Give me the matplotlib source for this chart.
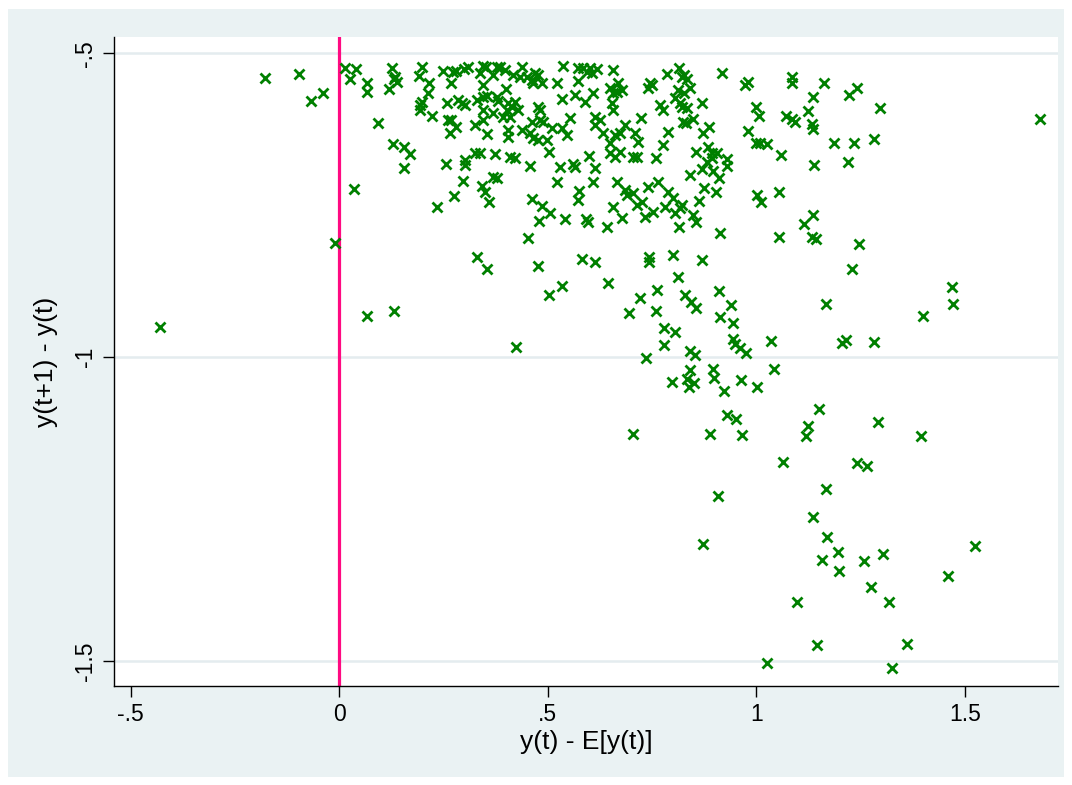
import matplotlib
matplotlib.use("Agg")
import matplotlib.pyplot as plt
from matplotlib.patches import Rectangle

# x: y(t) - E[y(t)],  y: y(t+1) - y(t)
x_vals = [
    -0.178, -0.097, -0.068, -0.039, 0.014, 0.040, 0.026, 0.066, 0.066, 0.126,
    0.134, 0.138, 0.131, 0.119, 0.093, 0.198, 0.191, 0.215, 0.213, 0.198,
    0.194, 0.194, 0.222, 0.129, 0.155, 0.170, 0.249, 0.273, 0.280, 0.268,
    0.258, 0.285, 0.261, 0.268, 0.265, 0.280, 0.155, 0.256, 0.299, 0.309,
    0.345, 0.352, 0.337, 0.369, 0.378, 0.385, 0.397, 0.345, 0.400, 0.416,
    0.438, 0.433, 0.450, 0.462, 0.469, 0.476, 0.464, 0.486, 0.522, 0.536,
    0.572, 0.584, 0.594, 0.601, 0.618, 0.606, 0.572, 0.656, 0.786, 0.745,
    0.740, 0.750, 0.294, 0.301, 0.330, 0.345, 0.354, 0.378, 0.381, 0.345,
    0.369, 0.405, 0.414, 0.421, 0.428, 0.402, 0.393, 0.409, 0.476, 0.481,
    0.534, 0.565, 0.589, 0.608, 0.649, 0.656, 0.668, 0.678, 0.666, 0.654,
    0.656, 0.769, 0.776, 0.325, 0.345, 0.354, 0.405, 0.405, 0.438, 0.457,
    0.464, 0.476, 0.498, 0.462, 0.481, 0.488, 0.510, 0.534, 0.546, 0.553,
    0.613, 0.625, 0.613, 0.632, 0.661, 0.673, 0.685, 0.649, 0.709, 0.716,
    0.723, 0.776, 0.788, 0.325, 0.337, 0.373, 0.409, 0.421, 0.301, 0.301,
    0.503, 0.599, 0.649, 0.661, 0.673, 0.704, 0.714, 0.759, 0.457, 0.529,
    0.560, 0.565, 0.613, 0.814, 0.822, 0.826, 0.834, 0.918, 0.973, 0.980,
    1.085, 1.085, 1.162, 1.241, 1.222, 0.812, 0.805, 0.817, 0.826, 0.841,
    0.834, 0.822, 0.870, 0.824, 0.831, 0.848, 0.872, 0.886, 0.999, 1.006,
    0.980, 0.999, 1.009, 1.025, 1.071, 1.085, 1.093, 1.124, 1.136, 1.133,
    1.136, 1.296, 1.186, 1.234, 1.282, 1.059, 0.855, 0.884, 0.894, 0.906,
    0.894, 0.882, 0.930, 0.930, 0.870, 1.138, 1.220, 1.680, 1.469, 0.035,
    0.234, 0.275, -0.010, 0.297, 0.342, 0.349, 0.359, 0.369, 0.378, 0.522,
    0.608, 0.575, 0.572, 0.462, 0.486, 0.505, 0.479, 0.541, 0.592, 0.596,
    0.642, 0.656, 0.678, 0.666, 0.685, 0.690, 0.704, 0.714, 0.726, 0.740,
    0.764, 0.733, 0.752, 0.781, 0.788, 0.452, 0.330, 0.354, 0.476, 0.582,
    0.613, 0.743, 0.743, 0.534, 0.644, 0.503, 0.762, 0.841, 0.896, 0.910,
    0.800, 0.805, 0.817, 0.822, 0.874, 0.903, 0.862, 0.848, 0.855, 0.814,
    0.913, 1.001, 1.011, 1.054, 1.114, 1.136, 1.054, 1.133, 1.143, 1.246,
    0.800, 0.870, 1.229, 0.812, 0.829, 0.910, -0.430, 0.066, 0.131, 0.424,
    0.695, 0.721, 0.759, 0.778, 0.805, 0.778, 0.735, 0.843, 0.855, 0.939,
    0.913, 0.944, 0.944, 0.949, 0.961, 0.975, 1.035, 0.841, 0.853, 0.841,
    0.834, 0.838, 0.850, 0.798, 0.896, 0.898, 0.922, 0.963, 1.001, 1.042,
    0.930, 0.951, 0.704, 0.889, 0.966, 1.471, 1.167, 1.399, 1.205, 1.215,
    1.282, 1.150, 1.124, 1.119, 1.292, 1.395, 1.064, 1.241, 1.265, 1.167,
    1.136, 1.169, 1.196, 1.198, 1.157, 1.258, 1.304, 1.524, 1.459, 1.275,
    1.097, 1.318, 1.145, 1.361, 1.325, 0.908, 0.872, 1.025,
]
y_vals = [
    -0.541, -0.534, -0.578, -0.565, -0.524, -0.526, -0.542, -0.549, -0.564, -0.524,
    -0.539, -0.547, -0.542, -0.559, -0.615, -0.523, -0.537, -0.549, -0.565, -0.580,
    -0.585, -0.593, -0.603, -0.649, -0.654, -0.666, -0.529, -0.531, -0.529, -0.549,
    -0.582, -0.577, -0.610, -0.610, -0.631, -0.621, -0.689, -0.682, -0.526, -0.523,
    -0.521, -0.523, -0.532, -0.536, -0.523, -0.523, -0.528, -0.552, -0.559, -0.536,
    -0.523, -0.539, -0.539, -0.544, -0.532, -0.536, -0.549, -0.549, -0.549, -0.521,
    -0.524, -0.524, -0.531, -0.524, -0.526, -0.532, -0.546, -0.528, -0.534, -0.549,
    -0.557, -0.552, -0.582, -0.585, -0.577, -0.572, -0.570, -0.572, -0.578, -0.593,
    -0.598, -0.582, -0.588, -0.580, -0.593, -0.593, -0.605, -0.605, -0.588, -0.593,
    -0.575, -0.569, -0.580, -0.565, -0.557, -0.565, -0.549, -0.560, -0.564, -0.582,
    -0.593, -0.585, -0.593, -0.618, -0.610, -0.633, -0.626, -0.638, -0.626, -0.631,
    -0.639, -0.643, -0.643, -0.613, -0.610, -0.613, -0.623, -0.623, -0.634, -0.606,
    -0.605, -0.610, -0.618, -0.631, -0.634, -0.631, -0.618, -0.648, -0.631, -0.646,
    -0.606, -0.651, -0.629, -0.664, -0.664, -0.666, -0.671, -0.672, -0.676, -0.684,
    -0.662, -0.669, -0.664, -0.671, -0.662, -0.671, -0.671, -0.672, -0.685, -0.687,
    -0.682, -0.687, -0.689, -0.524, -0.539, -0.536, -0.542, -0.532, -0.552, -0.547,
    -0.539, -0.549, -0.549, -0.557, -0.569, -0.560, -0.574, -0.582, -0.565, -0.557,
    -0.590, -0.588, -0.582, -0.613, -0.615, -0.608, -0.631, -0.621, -0.588, -0.603,
    -0.628, -0.648, -0.648, -0.649, -0.603, -0.608, -0.613, -0.595, -0.572, -0.616,
    -0.625, -0.590, -0.648, -0.648, -0.641, -0.667, -0.662, -0.654, -0.664, -0.664,
    -0.672, -0.679, -0.674, -0.685, -0.690, -0.684, -0.679, -0.608, -0.885, -0.723,
    -0.753, -0.735, -0.812, -0.710, -0.718, -0.728, -0.745, -0.704, -0.705, -0.712,
    -0.712, -0.727, -0.741, -0.740, -0.751, -0.763, -0.776, -0.773, -0.773, -0.777,
    -0.786, -0.753, -0.771, -0.712, -0.725, -0.733, -0.730, -0.750, -0.745, -0.720,
    -0.712, -0.769, -0.761, -0.753, -0.728, -0.804, -0.835, -0.855, -0.850, -0.838,
    -0.843, -0.835, -0.843, -0.883, -0.878, -0.898, -0.889, -0.700, -0.694, -0.705,
    -0.738, -0.763, -0.754, -0.750, -0.722, -0.728, -0.743, -0.766, -0.777, -0.786,
    -0.796, -0.733, -0.745, -0.728, -0.781, -0.766, -0.802, -0.802, -0.805, -0.814,
    -0.832, -0.840, -0.855, -0.868, -0.898, -0.891, -0.950, -0.932, -0.924, -0.983,
    -0.927, -0.903, -0.924, -0.952, -0.958, -0.980, -1.001, -0.909, -0.919, -0.914,
    -0.934, -0.944, -0.970, -0.978, -0.985, -0.993, -0.973, -0.990, -0.996, -1.021,
    -1.036, -1.049, -1.042, -1.041, -1.019, -1.034, -1.055, -1.037, -1.049, -1.019,
    -1.095, -1.102, -1.126, -1.126, -1.128, -0.912, -0.912, -0.932, -0.977, -0.972,
    -0.975, -1.085, -1.113, -1.130, -1.106, -1.130, -1.172, -1.174, -1.179, -1.216,
    -1.263, -1.296, -1.320, -1.351, -1.333, -1.335, -1.324, -1.310, -1.360, -1.378,
    -1.402, -1.402, -1.473, -1.472, -1.511, -1.228, -1.307, -1.503,
]

x_ticks = [-0.5, 0, 0.5, 1, 1.5]
x_tick_labels = ["-.5", "0", ".5", "1", "1.5"]
y_ticks = [-0.5, -1, -1.5]
y_tick_labels = ["-.5", "-1", "-1.5"]
ref_line_x = 0
x_label = "y(t) - E[y(t)]"
y_label = "y(t+1) - y(t)"

plt.rcParams['font.family'] = ['Liberation Sans', 'DejaVu Sans']

W, H = 1072, 785
fig = plt.figure(figsize=(W / 100, H / 100), dpi=100)
fig.patch.set_facecolor('white')
bg = Rectangle((8 / W, 8 / H), 1056 / W, 768 / H,
               transform=fig.transFigure, facecolor='#eaf2f3',
               edgecolor='none', zorder=-10)
fig.add_artist(bg)

ax = fig.add_axes([114 / W, (H - 686) / H, 944 / W, 649 / H])
ax.set_zorder(5)
ax.set_facecolor('white')

ax.set_xlim(-0.5402, 1.7231)
ax.set_ylim(-1.5406, -0.4732)

for yt in y_ticks:
    ax.axhline(yt, color='#e4ecef', linewidth=1.8, zorder=1)

ax.axvline(ref_line_x, color='#ff0a82', linewidth=2.3, zorder=2)

ax.plot(x_vals, y_vals, linestyle='none', marker='x', color='#008000',
        markersize=6.5, markeredgewidth=2.0, zorder=3)

for side in ['top', 'right']:
    ax.spines[side].set_visible(False)
for side in ['left', 'bottom']:
    ax.spines[side].set_color('black')
    ax.spines[side].set_linewidth(1.0)

ax.set_xticks(x_ticks)
ax.set_xticklabels(x_tick_labels)
ax.set_yticks(y_ticks)
ax.set_yticklabels(y_tick_labels, rotation=90, va='center')
ax.tick_params(axis='both', direction='out', length=8, width=1.0,
               labelsize=16.5, colors='black', pad=4)

ax.set_xlabel(x_label, fontsize=19, labelpad=3)
ax.set_ylabel(y_label, fontsize=19, labelpad=12)

fig.savefig('out.png', dpi=100, facecolor=fig.get_facecolor())
